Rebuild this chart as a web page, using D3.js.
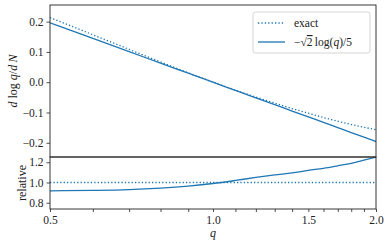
<!DOCTYPE html>
<meta charset="utf-8">
<style>
  body { margin: 0; overflow: hidden; background: white; }
  svg text { font-family: "Liberation Serif", "DejaVu Serif", serif; }
  .tick text { font-size: 11.5px; fill: #222; }
</style>
<body></body>
<script src="https://cdn.jsdelivr.net/npm/d3@7"></script>
<script>

// values
var qs       = [0.5, 0.6, 0.7, 0.8, 0.9, 1.0, 1.1, 1.2, 1.3, 1.4, 1.5, 1.6, 1.7, 1.8, 1.9, 2.0];
var exact    = [0.2135, 0.1567, 0.1085, 0.0668, 0.0309, 0.0, -0.0264, -0.0491, -0.069, -0.087, -0.1024, -0.1166, -0.1288, -0.1397, -0.1488, -0.1568];
var approx   = [0.196, 0.1445, 0.1009, 0.0631, 0.0298, 0.0, -0.0270, -0.0516, -0.0742, -0.0952, -0.1147, -0.1329, -0.1501, -0.1662, -0.1815, -0.196];
var relative = [0.918, 0.922, 0.930, 0.945, 0.965, 0.99, 1.02, 1.05, 1.075, 1.095, 1.12, 1.14, 1.165, 1.19, 1.22, 1.25];
var ones     = [1, 1];
var onesQ    = [0.5, 2.0];

var xTicks  = [0.5, 0.6, 0.7, 0.8, 0.9, 1.0, 1.1, 1.2, 1.3, 1.4, 1.5, 1.6, 1.7, 1.8, 1.9, 2.0];
var xLabels = [0.5, 1.0, 1.5, 2.0];
var yTicksTop = [0.2, 0.1, 0.0, -0.1, -0.2];
var yTicksRel = [1.2, 1.0, 0.8];

var blue = "#1f77b4";
var pLeft = 50, pRight = 376, pTop = 5, pMid = 157, pBottom = 209;

var svg = d3.select("body").append("svg")
    .attr("width", 389)
    .attr("height", 244);

var x = d3.scaleLog().domain([0.5, 2.0]).range([pLeft, pRight]);
var yTop = d3.scaleLinear().domain([-0.247, 0.255]).range([pMid, pTop]);
var yRel = d3.scaleLinear().domain([0.738, 1.252]).range([pBottom, pMid]);

svg.append("defs").append("clipPath").attr("id", "clipTop")
  .append("rect").attr("x", pLeft).attr("y", pTop).attr("width", pRight - pLeft).attr("height", pMid - pTop);
svg.select("defs").append("clipPath").attr("id", "clipRel")
  .append("rect").attr("x", pLeft).attr("y", pMid).attr("width", pRight - pLeft).attr("height", pBottom - pMid);

function fmt(d) {
  return d3.format(".1f")(d).replace("-", "\u2212");
}

function tidy(g) {
  g.attr("font-family", null).attr("font-size", null);
  g.select(".domain").remove();
}

// axes
svg.append("g")
    .attr("transform", "translate(" + pLeft + ",0)")
    .call(d3.axisLeft(yTop).tickValues(yTicksTop).tickFormat(fmt).tickSize(3.5).tickPadding(3))
    .call(tidy);

svg.append("g")
    .attr("transform", "translate(" + pLeft + ",0)")
    .call(d3.axisLeft(yRel).tickValues(yTicksRel).tickFormat(fmt).tickSize(3.5).tickPadding(3))
    .call(tidy);

svg.append("g")
    .attr("transform", "translate(0," + pBottom + ")")
    .call(d3.axisBottom(x).tickValues(xTicks)
      .tickFormat(d => xLabels.some(v => Math.abs(v - d) < 1e-9) ? d3.format(".1f")(d) : "")
      .tickSize(3).tickPadding(3.5))
    .call(tidy);

svg.selectAll(".tick line").attr("stroke", "#222").attr("stroke-width", 0.8);

// lines
var lineTop = d3.line().x((d, i) => x(qs[i])).y(d => yTop(d)).curve(d3.curveMonotoneX);
var lineRel = d3.line().x((d, i) => x(qs[i])).y(d => yRel(d)).curve(d3.curveMonotoneX);

var gTop = svg.append("g").attr("clip-path", "url(#clipTop)");
gTop.append("path").datum(exact)
    .attr("d", lineTop).attr("fill", "none").attr("stroke", blue)
    .attr("stroke-width", 1.3).attr("stroke-dasharray", "1.3,2.1");
gTop.append("path").datum(approx)
    .attr("d", lineTop).attr("fill", "none").attr("stroke", blue).attr("stroke-width", 1.3);

var gRel = svg.append("g").attr("clip-path", "url(#clipRel)");
gRel.append("path").datum(ones)
    .attr("d", d3.line().x((d, i) => x(onesQ[i])).y(d => yRel(d)))
    .attr("fill", "none").attr("stroke", blue)
    .attr("stroke-width", 1.3).attr("stroke-dasharray", "1.3,2.1");
gRel.append("path").datum(relative)
    .attr("d", lineRel).attr("fill", "none").attr("stroke", blue).attr("stroke-width", 1.3);

// frames
svg.append("rect").attr("x", pLeft).attr("y", pTop).attr("width", pRight - pLeft).attr("height", pMid - pTop)
    .attr("fill", "none").attr("stroke", "#222").attr("stroke-width", 0.9);
svg.append("rect").attr("x", pLeft).attr("y", pMid).attr("width", pRight - pLeft).attr("height", pBottom - pMid)
    .attr("fill", "none").attr("stroke", "#222").attr("stroke-width", 0.9);

// legend
var leg = svg.append("g").attr("transform", "translate(253,12)");
leg.append("rect").attr("width", 117).attr("height", 41).attr("rx", 2.5)
    .attr("fill", "white").attr("fill-opacity", 0.8).attr("stroke", "#d0d0d0").attr("stroke-width", 0.9);
leg.append("line").attr("x1", 5).attr("x2", 32).attr("y1", 11).attr("y2", 11)
    .attr("stroke", blue).attr("stroke-width", 1.3).attr("stroke-dasharray", "1.3,2.1");
leg.append("line").attr("x1", 5).attr("x2", 32).attr("y1", 30).attr("y2", 30)
    .attr("stroke", blue).attr("stroke-width", 1.3);
leg.append("text").attr("x", 41).attr("y", 15).attr("font-size", 11.5).attr("fill", "#222").text("exact");
var t2 = leg.append("text").attr("x", 41).attr("y", 34).attr("font-size", 11.5).attr("fill", "#222");
t2.append("tspan").text("\u2212\u221a");
t2.append("tspan").style("text-decoration", "overline").text("2");
t2.append("tspan").text("\u2009log(");
t2.append("tspan").attr("font-style", "italic").text("q");
t2.append("tspan").text(")/5");

// axis labels
var yl = svg.append("text")
    .attr("transform", "translate(17,81) rotate(-90)")
    .attr("text-anchor", "middle").attr("font-size", 12).attr("fill", "#222");
yl.append("tspan").attr("font-style", "italic").text("d");
yl.append("tspan").text(" log ");
yl.append("tspan").attr("font-style", "italic").text("q");
yl.append("tspan").text("/");
yl.append("tspan").attr("font-style", "italic").text("d\u2009N");

svg.append("text")
    .attr("transform", "translate(26,183) rotate(-90)")
    .attr("text-anchor", "middle").attr("font-size", 12).attr("fill", "#222")
    .text("relative");

svg.append("text")
    .attr("x", x(1.0)).attr("y", 237)
    .attr("text-anchor", "middle").attr("font-size", 12).attr("font-style", "italic").attr("fill", "#222")
    .text("q");

</script>
